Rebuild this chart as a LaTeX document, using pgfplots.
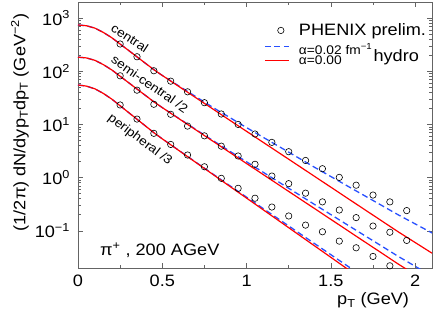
\documentclass[border=0pt]{standalone}
\usepackage{fontspec}
\setmainfont{Liberation Sans}[FakeStretch=1.1]
\usepackage{pgfplots}
\usepackage{pgfplotstable}
\pgfplotsset{compat=1.18}
\newcommand\lgf{\fontsize{16.5bp}{19.8bp}\selectfont}
\newcommand\smf{\fontsize{12.5bp}{15bp}\selectfont}
\definecolor{myblue}{RGB}{40,80,255}
\definecolor{myred}{RGB}{255,0,0}
\definecolor{axgray}{RGB}{100,100,100}
\pgfplotsset{
  bline/.style={legend image code/.code={\draw[myblue, line width=1.3bp, dash pattern=on 6bp off 3.5bp] (0bp,0bp) -- (24bp,0bp);}},
  rline/.style={legend image code/.code={\draw[myred, line width=1.2bp] (0bp,0bp) -- (24bp,0bp);}},
}
\pgfplotstableread{
x cr cb mr mb lr lb
0 740 740 183.7 183.7 55.1 55.1
0.05 716 716 177.8 177.8 52.5 52.5
0.1 646 646 160.3 160.3 46.7 46.7
0.15 537 537 133.3 133.3 38.3 38.3
0.2 427 427 105.9 105.9 29.97 29.97
0.25 324 324 80.4 80.4 22.4 22.4
0.3 246 246 61.0 61.0 16.75 16.75
0.35 186 186 46.2 46.2 12.52 12.52
0.4 141 141 35.1 35.1 9.36 9.36
0.45 107 107 26.6 26.6 7.00 7.00
0.5 83.2 83.2 20.7 20.7 5.355 5.355
0.6 51.3 52.5 12.74 12.87 3.206 3.225
0.7 31.6 33.1 7.85 8.01 1.918 1.940
0.8 19.5 20.9 4.84 4.99 1.150 1.170
0.9 12.0 13.5 2.98 3.14 0.687 0.707
1.0 7.41 8.71 1.84 1.98 0.412 0.429
1.1 4.57 5.69 1.135 1.253 0.2467 0.2605
1.2 2.82 3.72 0.700 0.792 0.1479 0.1585
1.3 1.74 2.43 0.4316 0.5015 0.0885 0.0962
1.4 1.072 1.585 0.2662 0.3173 0.0530 0.0585
1.5 0.661 1.048 0.1641 0.2018 0.03174 0.0356
1.6 0.407 0.691 0.1011 0.1283 0.01898 0.02167
1.7 0.251 0.457 0.0623 0.0816 0.01137 0.0132
1.8 0.155 0.302 0.0385 0.0520 0.0068 0.00804
1.9 0.0955 0.1995 0.0237 0.0330 0.00408 0.0049
2.0 0.0603 0.135 0.0150 0.02156 0.0025 0.00306
2.1 0.0380 0.0912 0.00944 0.0140 0.00153 0.0019
}\curves
\pgfplotstableread{
x c m p
0.25 325 82 23.2
0.35 187 44 12.6
0.45 102 23.9 6.8
0.55 65 15.5 4.2
0.65 41 9.3 2.66
0.75 25.6 6.1 1.60
0.85 15.7 3.9 0.97
0.95 10.0 2.55 0.63
1.05 6.6 1.78 0.41
1.15 4.6 1.07 0.28
1.25 3.07 0.77 0.19
1.35 2.1 0.51 0.128
1.45 1.47 0.35 0.096
1.55 1.01 0.246 0.064
1.65 0.72 0.177 0.048
1.75 0.47 0.123 0.033
1.85 0.35 0.094 0.022
1.95 0.24 0.066 nan
}\phenix
\begin{document}
\begin{tikzpicture}
\begin{axis}[
  scale only axis, width=354bp, height=266bp,
  xmin=0, xmax=2.1, ymin=0.02, ymax=2000, ymode=log,
  xtick={0,0.5,1,1.5,2}, xticklabels={0,0.5,1,1.5,2},
  minor xtick={0.25,0.75,1.25,1.75},
  ytick={0.1,1,10,100,1000},
  yticklabels={10\textsuperscript{−1},10\textsuperscript{0},10\textsuperscript{1},10\textsuperscript{2},10\textsuperscript{3}},
  tick label style={font=\lgf, black},
  xticklabel style={yshift=-3.5bp},
  yticklabel style={xshift=-4.5bp},
  axis line style={axgray, line width=0.8bp},
  every tick/.style={axgray, line width=0.6bp},
  major tick length=5bp, minor tick length=3bp,
  xlabel={p\textsubscript{T} (GeV)},
  xlabel style={font=\lgf, at={(axis description cs:0.945,-0.139)}, anchor=base east},
  ylabel={(1/2π) dN/dyp\textsubscript{T}dp\textsubscript{T} (GeV\textsuperscript{−2})},
  ylabel style={font=\lgf, at={(axis description cs:-0.164,0.547)}, anchor=center, rotate=0},
  legend style={draw=none, fill=none, at={(axis description cs:0.5254,0.921)}, anchor=north west,
    inner sep=0pt, row sep=-1bp, column sep=9bp, nodes={inner sep=0.5bp}},
  legend cell align=left,
]
\addlegendimage{only marks, mark=o, mark size=3.2bp, line width=0.6bp, xshift=7.5bp}
\addlegendentry{\lgf PHENIX prelim.}
\addlegendimage{bline}
\addlegendentry{\smf\rule{0pt}{17bp}α=0.02 fm\textsuperscript{−1}}
\addlegendimage{rline}
\addlegendentry{\smf α=0.00}

\addplot[forget plot, myblue, line width=1.3bp, dash pattern=on 6bp off 3.5bp] table[x=x, y=cb] {\curves};
\addplot[forget plot, myblue, line width=1.3bp, dash pattern=on 6bp off 3.5bp] table[x=x, y=mb] {\curves};
\addplot[forget plot, myblue, line width=1.3bp, dash pattern=on 6bp off 3.5bp] table[x=x, y=lb] {\curves};
\addplot[forget plot, myred, line width=1.2bp] table[x=x, y=cr] {\curves};
\addplot[forget plot, myred, line width=1.2bp] table[x=x, y=mr] {\curves};
\addplot[forget plot, myred, line width=1.2bp] table[x=x, y=lr] {\curves};
\addplot[forget plot, only marks, mark=o, black, mark size=3.2bp, line width=0.6bp] table[x=x, y=c] {\phenix};
\addplot[forget plot, only marks, mark=o, black, mark size=3.2bp, line width=0.6bp] table[x=x, y=m] {\phenix};
\addplot[forget plot, only marks, mark=o, black, mark size=3.2bp, line width=0.6bp] table[x=x, y=p] {\phenix};

\node[font=\smf, rotate=-33] at (axis cs:0.308,421) {central};
\node[font=\smf, rotate=-35] at (axis cs:0.426,57.5) {semi-central /2};
\node[font=\smf, rotate=-37] at (axis cs:0.367,5.09) {peripheral /3};
\node[font=\lgf, anchor=west] at (axis cs:0.11,0.0436) {π\textsuperscript{+} , 200 AGeV};
\node[font=\lgf] at (axis cs:1.888,180) {hydro};
\end{axis}
\pgfresetboundingbox
\path[use as bounding box] ([shift={(-78bp,-52bp)}]current axis.south west) rectangle ([shift={(4bp,2bp)}]current axis.north east);
\end{tikzpicture}
\end{document}
